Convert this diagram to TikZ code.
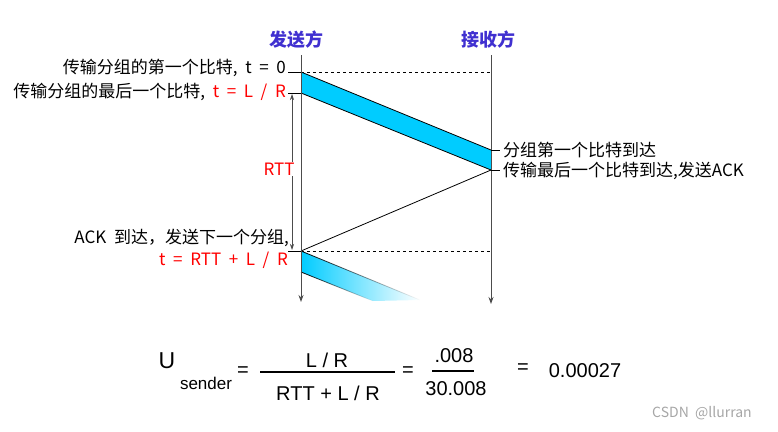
\documentclass[tikz,border=0pt]{standalone}
\usepackage{fontspec}
\setmainfont{Liberation Sans}
\newfontfamily\cjk[WordSpace=2]{Noto Sans CJK SC}
\usetikzlibrary{arrows.meta,fadings}

\definecolor{pktblue}{RGB}{0,204,255}
\definecolor{titleblue}{RGB}{64,48,208}
\tikzfading[name=fade right, left color=transparent!0, right color=transparent!100]

\begin{document}
\begin{tikzpicture}[x=1pt,y=-1pt,
    lbl/.style={font=\cjk\fontsize{17}{20}\selectfont, inner sep=0pt},
    hot/.style={lbl, text=red},
    head/.style={font=\cjk\bfseries\fontsize{18}{20}\selectfont, text=titleblue, inner sep=0pt},
    life/.style={draw=black!70, line width=0.9pt, -{Stealth[length=7pt,width=5pt]}},
    fml/.style={font=\fontsize{20}{24}\selectfont, inner sep=0pt}]
    \useasboundingbox (0,0) rectangle (778,431);

    % sender and receiver
    \node[head] (snd) at (296,40) {发送方};
    \node[head] (rcv) at (488,40) {接收方};
    \coordinate (stop) at (301,55);
    \coordinate (sbot) at (301,302);
    \coordinate (rtop) at (491,55);
    \coordinate (rbot) at (491,304);

    \coordinate (s0) at (301,72);
    \coordinate (s1) at (301,93);
    \coordinate (s2) at (301,251);
    \coordinate (s3) at (301,272);
    \coordinate (r0) at (491,150);
    \coordinate (r1) at (491,170);
    \coordinate (d0) at (491,72);
    \coordinate (d2) at (491,251);

    % first packet
    \fill[pktblue] (s0) -- (r0) -- (r1) -- (s1) -- cycle;
    \draw[line width=0.8pt] (s0) -- (r0);
    \draw[line width=0.8pt] (s1) -- (r1);
    \draw[dash pattern=on 3pt off 3pt, line width=0.6pt] (s0) -- (d0);

    % ack back
    \draw[line width=0.8pt] (r1) -- (s2);
    \draw[dash pattern=on 3pt off 3pt, line width=0.6pt] (s2) -- (d2);

    % next packet
    \coordinate (n0) at (420,300);
    \coordinate (n1) at (373,301);
    \fill[pktblue, path fading=fade right] (s2) -- (n0) -- (n1) -- (s3) -- cycle;
    \draw[line width=0.8pt, path fading=fade right] (s2) -- (n0);
    \draw[line width=0.8pt, path fading=fade right] (s3) -- (n1);

    \draw[life] (stop) -- (sbot);
    \draw[life] (rtop) -- (rbot);

    % ticks and labels
    \coordinate (t0) at (288,72);
    \coordinate (t1) at (288,93);
    \coordinate (t2) at (288,251);
    \coordinate (u0) at (500,150);
    \coordinate (u1) at (500,170);
    \draw[line width=0.6pt] (t0) -- (s0);
    \draw[line width=0.6pt] (t1) -- (s1);
    \draw[line width=0.6pt] (t2) -- (s2);
    \draw[line width=0.6pt] (r0) -- (u0);
    \draw[line width=0.6pt] (r1) -- (u1);

    \node[lbl, anchor=east] (first) at (286,68) {传输分组的第一个比特, t = 0};
    \node[lbl, anchor=east] (last) at (286,92) {传输分组的最后一个比特, \textcolor{red}{t = L / R}};
    \node[lbl, anchor=west] (got0) at (503,150) {分组第一个比特到达};
    \node[lbl, anchor=west] (got1) at (503,171) {传输最后一个比特到达,发送ACK};
    \node[lbl, anchor=east] (ack) at (289,238) {ACK 到达，发送下一个分组,};
    \node[hot, anchor=east] (tack) at (288,260) {t = RTT + L / R};

    % RTT
    \coordinate (ra) at (292,94);
    \coordinate (rb) at (292,250);
    \draw[black!70, line width=0.7pt, {Stealth[length=6pt,width=4pt]}-{Stealth[length=6pt,width=4pt]}] (ra) -- (rb);
    \node[hot, fill=white, inner sep=1pt] (rtt) at (279,169) {RTT};

    % utilisation
    \node[fml, font=\fontsize{23}{26}\selectfont, anchor=base] (u) at (167,368) {U};
    \node[fml, font=\fontsize{17}{20}\selectfont, anchor=base] (sub) at (206,389) {sender};
    \node[fml] (eq1) at (243,372) {=};
    \node[fml, anchor=base] (num1) at (327,367) {L / R};
    \node[fml, anchor=base] (den1) at (328,400) {RTT + L / R};
    \coordinate (f0) at (260,372);
    \coordinate (f1) at (395,372);
    \draw[line width=1.2pt] (f0) -- (f1);
    \node[fml] (eq2) at (408,372) {=};
    \node[fml, anchor=base] (num2) at (454,362) {.008};
    \node[fml, anchor=base] (den2) at (456,395) {30.008};
    \coordinate (g0) at (432,371);
    \coordinate (g1) at (474,371);
    \draw[line width=1.2pt] (g0) -- (g1);
    \node[fml] (eq3) at (523,369) {=};
    \node[fml, anchor=base] (res) at (585,377) {0.00027};

    \node[lbl, font=\cjk\fontsize{14}{16}\selectfont, text=black!35] (mark) at (702,413) {CSDN @llurran};
\end{tikzpicture}
\end{document}
